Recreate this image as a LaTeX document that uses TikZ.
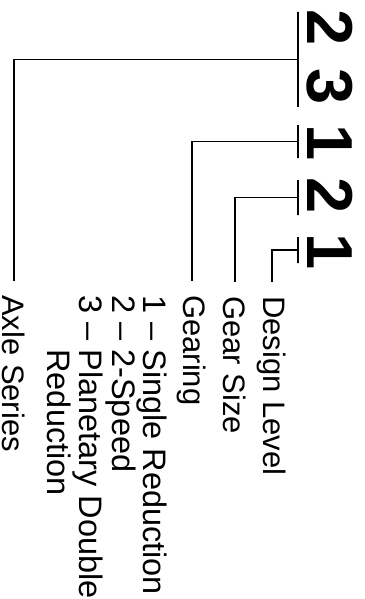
\documentclass[tikz,border=0pt]{standalone}
\usepackage{fontspec}
\setmainfont{Liberation Sans}

\tikzset{
  digit/.style={rotate=-90, inner sep=0pt, font=\fontsize{65}{65}\selectfont\bfseries},
  fieldlabel/.style={rotate=-90, anchor=west, inner xsep=14pt, inner ysep=0pt, font=\fontsize{31}{31}\selectfont},
  gearitem/.style={rotate=-90, anchor=base west, inner sep=0pt, font=\fontsize{32.5}{32.5}\selectfont},
  codebar/.style={draw, line width=1.6pt, inner sep=0pt, outer sep=0pt, minimum width=0pt},
  leadline/.style={line width=1.4pt}
}

\begin{document}
\begin{tikzpicture}[x=1pt, y=-1pt]
    \useasboundingbox (0,0) rectangle (364,599);
    \node[digit] (a) at (330, 28) {2};
    \node[digit] (b) at (330, 86.5) {3};
    \node[digit] (g) at (330, 143) {1};
    \node[digit] (s) at (330, 196) {2};
    \node[digit] (d) at (330, 251.5) {1};
    \node[codebar, minimum height=95pt] (ab) at (298, 59.5) {};
    \node[codebar, minimum height=33pt] (gb) at (298, 141.5) {};
    \node[codebar, minimum height=35pt] (sb) at (298, 197.5) {};
    \node[codebar, minimum height=26pt] (db) at (298, 250) {};
    \node[fieldlabel] (axle) at (14, 281) {Axle Series};
    \node[fieldlabel] (gearing) at (192, 281) {Gearing};
    \node[fieldlabel] (size) at (235, 282) {Gear Size};
    \node[fieldlabel] (level) at (272, 282) {Design Level};
    \node[gearitem] (g1) at (143, 295) {1 -- Single Reduction};
    \node[gearitem] (g2) at (112, 295) {2 -- 2-Speed};
    \node[gearitem] (g3) at (79, 295) {3 -- Planetary Double};
    \node[gearitem] (g3b) at (47, 295) {\phantom{3 -- }Reduction};
    \draw [leadline] (ab) -| (axle);
    \draw [leadline] (gb) -| (gearing);
    \draw [leadline] (sb) -| (size);
    \draw [leadline] (db) -| (level);
  \end{tikzpicture}
\end{document}
